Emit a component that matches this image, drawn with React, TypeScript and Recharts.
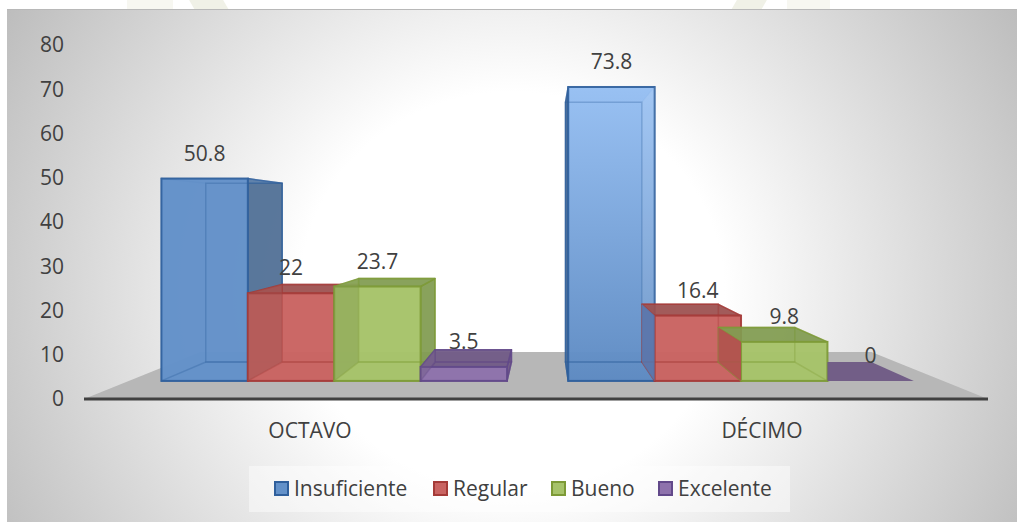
import { BarChart, Bar, XAxis, YAxis, Legend, LabelList, ReferenceArea } from 'recharts';

const categories = ['OCTAVO', 'DÉCIMO'];
const insuficiente = [50.8, 73.8];
const regular = [22, 16.4];
const bueno = [23.7, 9.8];
const excelente = [3.5, 0];
const yTicks = [0, 10, 20, 30, 40, 50, 60, 70, 80];

const data = categories.map((name, i) => ({
  name,
  insuficiente: insuficiente[i],
  regular: regular[i],
  bueno: bueno[i],
  excelente: excelente[i],
}));

const FONT = '"Open Sans", sans-serif';
const FONT_SIZE = 21;
const TEXT = '#404040';

// vanishing point of the fake 3D, and depth of the front and back of each box
const VP_X = 545;
const VP_Y = 218;
const FRONT = 0.9;
const BACK = 0.796;

const px = (x: number, d: number) => VP_X + (x - VP_X) * d;
const py = (y: number, d: number) => VP_Y + (y - VP_Y) * d;

const pts = (list: number[][]) => list.map((p) => p.join(',')).join(' ');

const box = (color: any, prev: any) => (props: any) => {
  const { x, y, width, height, index } = props;
  const x1 = px(x, FRONT);
  const x2 = px(x + width, FRONT);
  const bx1 = px(x, BACK);
  const bx2 = px(x + width, BACK);
  const top = py(y, FRONT);
  const base = py(y + height, FRONT);
  const btop = py(y, BACK);
  const bbase = py(y + height, BACK);

  // a zero value is only a flat patch on the floor, hidden on the left by its neighbour
  if (height === 0) {
    return <polygon points={pts([[x1, base], [x2, base], [bx2, bbase], [x1, bbase]])} fill={color.dark} fillOpacity={0.95} />;
  }

  const back = [[bx1, btop], [bx2, btop], [bx2, bbase], [bx1, bbase]];
  const floor = [[x1, base], [x2, base], [bx2, bbase], [bx1, bbase]];
  const left = [[x1, top], [bx1, btop], [bx1, bbase], [x1, base]];
  const right = [[x2, top], [bx2, btop], [bx2, bbase], [x2, base]];
  const lid = [[x1, top], [x2, top], [bx2, btop], [bx1, btop]];

  const leftOut = bx1 < x1;
  const rightOut = bx2 > x2;
  const lidOut = btop < top;
  const front = color.lighter && index === 1 ? `url(#${color.lighter})` : color.fill;

  const face = (list: number[][], outer: boolean) => (
    <polygon
      points={pts(list)}
      fill={outer ? color.dark : color.fill}
      fillOpacity={outer ? 0.9 : 0.35}
      stroke={color.line}
      strokeOpacity={outer ? 0.8 : 0.4}
      strokeWidth={1.5}
      strokeLinejoin="round"
    />
  );

  // edges of the far faces, seen through the glassy front
  const ghost = (list: number[][]) => (
    <polygon points={pts(list)} fill="none" stroke={color.line} strokeOpacity={0.3} strokeWidth={1.5} />
  );

  return (
    <g>
      {face(back, false)}
      {face(floor, false)}
      {face(right, rightOut)}
      {face(lid, lidOut)}
      {!(leftOut && prev) && face(left, leftOut)}
      <rect
        x={x1}
        y={top}
        width={x2 - x1}
        height={base - top}
        fill={front}
        fillOpacity={0.96}
        stroke={color.line}
        strokeOpacity={0.9}
        strokeWidth={2}
      />
      {ghost(back)}
      {ghost(floor)}
      {!leftOut && prev && <polygon points={pts(left)} fill={color.dark} fillOpacity={0.4} />}
      {!rightOut && <polygon points={pts(right)} fill="#ffffff" fillOpacity={index === 1 && !prev ? 0.1 : 0} />}
      {/* on the right group the neighbour's side shows here, not this box's own */}
      {leftOut && prev && <polygon points={pts(left)} fill={prev.tint} fillOpacity={0.9} />}
    </g>
  );
};

const floorShape = (props: any) => {
  const { x, y, width, height } = props;
  const inset = width * 0.129;
  return (
    <polygon
      points={pts([[x, y + height], [x + width, y + height], [x + width - inset, y], [x + inset, y]])}
      fill="#b7b7b7"
    />
  );
};

const valueLabel = (props: any) => {
  const { x, y, width, value } = props;
  return (
    <text
      x={(px(x, FRONT) + px(x + width, FRONT)) / 2}
      y={py(y, FRONT) - 26}
      textAnchor="middle"
      dominantBaseline="central"
      fontFamily={FONT}
      fontSize={FONT_SIZE}
      fill={TEXT}
    >
      {value}
    </text>
  );
};

const blue = { fill: '#6391c9', dark: '#4e6d92', line: '#2f5f9c', lighter: 'blueGlow', tint: '#5776ad' };
const red = { fill: '#c96462', dark: '#9a4f4e', line: '#a53b38', tint: '#b0504c' };
const green = { fill: '#a7c36a', dark: '#7f9a50', line: '#7d9a36', tint: '#8ea85a' };
const purple = { fill: '#8e72ac', dark: '#6e5884', line: '#62498a', tint: '#6e5884' };

const series = [
  { key: 'insuficiente', name: 'Insuficiente', color: blue },
  { key: 'regular', name: 'Regular', color: red },
  { key: 'bueno', name: 'Bueno', color: green },
  { key: 'excelente', name: 'Excelente', color: purple },
];

const legendLefts = [25, 184, 302, 409];

const renderLegend = () => (
  <div
    style={{
      position: 'relative',
      width: 541,
      height: 46,
      background: 'rgba(255,255,255,0.45)',
      fontFamily: FONT,
      fontSize: FONT_SIZE,
      color: TEXT,
    }}
  >
    {series.map((s, i) => (
      <span
        key={s.key}
        style={{ position: 'absolute', left: legendLefts[i], top: 8, display: 'flex', alignItems: 'center', whiteSpace: 'nowrap' }}
      >
        <span
          style={{
            width: 11,
            height: 11,
            marginRight: 5,
            background: s.color.fill,
            border: `2px solid ${s.color.line}`,
          }}
        />
        {s.name}
      </span>
    ))}
  </div>
);

const watermark = [
  { left: 127, width: 46, skew: 0, color: '#f7f7f1' },
  { left: 192, width: 34, skew: 30, color: '#f0f1e7' },
  { left: 734, width: 30, skew: -30, color: '#f0f1e7' },
  { left: 787, width: 43, skew: 0, color: '#f7f7f1' },
];

export default function App() {
  return (
    <div style={{ position: 'absolute', left: 0, top: 0, width: 1017, height: 522, background: '#fff', overflow: 'hidden' }}>
      {watermark.map((w) => (
        <div
          key={w.left}
          style={{
            position: 'absolute',
            left: w.left,
            top: 0,
            width: w.width,
            height: 10,
            background: w.color,
            transform: `skewX(${w.skew}deg)`,
          }}
        />
      ))}
      <div
        style={{
          position: 'absolute',
          left: 7,
          top: 9,
          right: 0,
          bottom: 0,
          borderTop: '1px solid #b8b8b8',
          background: 'radial-gradient(ellipse 70% 130% at 50% 55%, #ffffff 0%, #ffffff 30%, #bdbdbd 83%)',
        }}
      />
      <BarChart
        width={1017}
        height={522}
        data={data}
        margin={{ top: 45, right: 29, bottom: 73, left: 0 }}
        barCategoryGap="7.7%"
        barGap={0}
        style={{ position: 'absolute', left: 0, top: 0 }}
      >
        <defs>
          <linearGradient id="blueGlow" x1="0" y1="0" x2="0" y2="1">
            <stop offset="0%" stopColor="#97c0f3" />
            <stop offset="100%" stopColor="#5d8ac2" />
          </linearGradient>
        </defs>
        <XAxis
          dataKey="name"
          height={50}
          tickLine={false}
          axisLine={{ stroke: '#404040', strokeWidth: 3 }}
          tickMargin={18}
          tick={{ fill: TEXT, fontSize: FONT_SIZE, fontFamily: FONT }}
        />
        <YAxis
          width={84}
          domain={[0, 80]}
          ticks={yTicks}
          interval={0}
          axisLine={false}
          tickLine={false}
          tickMargin={14}
          tick={{ fill: TEXT, fontSize: FONT_SIZE, fontFamily: FONT }}
        />
        <ReferenceArea y1={0} y2={10.6} ifOverflow="visible" shape={floorShape} />
        {series.map((s, i) => (
          <Bar
            key={s.key}
            dataKey={s.key}
            name={s.name}
            fill={s.color.fill}
            shape={box(s.color, i > 0 ? series[i - 1].color : null)}
            isAnimationActive={false}
          >
            <LabelList dataKey={s.key} content={valueLabel} />
          </Bar>
        ))}
        <Legend
          layout="horizontal"
          align="center"
          verticalAlign="middle"
          content={renderLegend}
          wrapperStyle={{ left: 249, top: 466, width: 541, height: 46 }}
        />
      </BarChart>
    </div>
  );
}
